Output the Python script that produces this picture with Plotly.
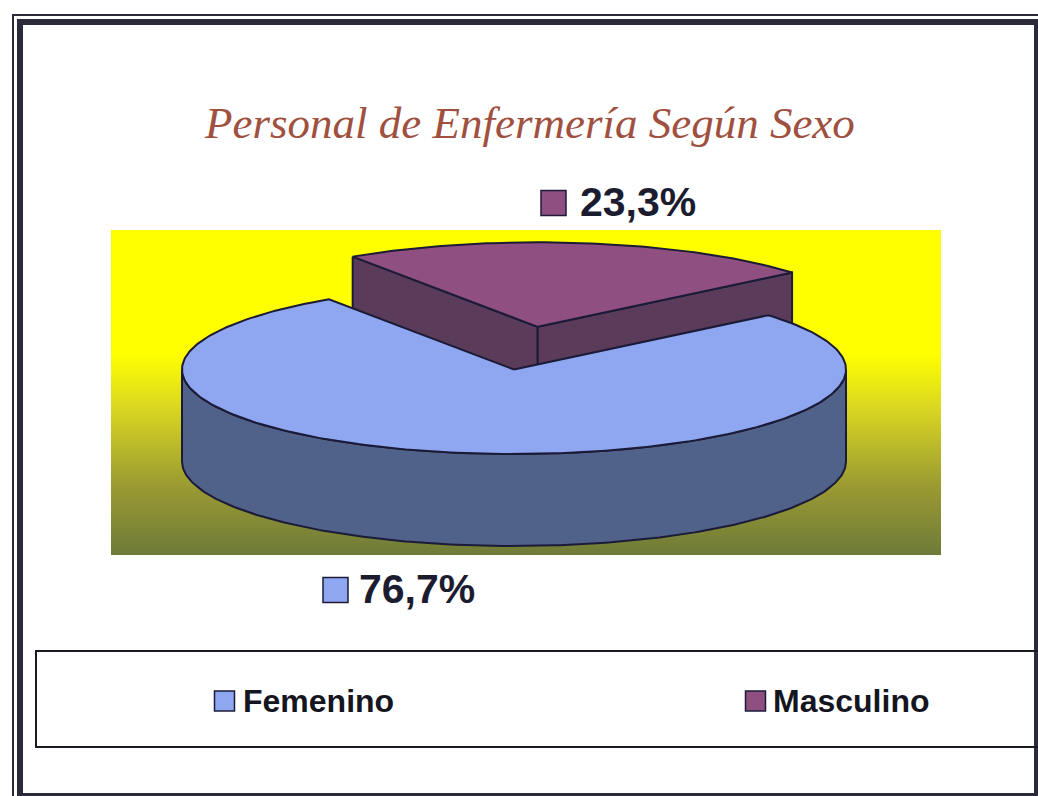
import numpy as np
import plotly.graph_objects as go

# --- data ---
categories = ["Femenino", "Masculino"]
values = [76.7, 23.3]
value_labels = ["76,7%", "23,3%"]
title_text = "Personal de Enfermería Según Sexo"

# --- styles ---
top_colors = ["#8fa7f0", "#8f4f80"]
side_colors = ["#50618a", "#5a3b59"]
line_color = "#1b1b38"
first_slice_angle = 50.0      # degrees clockwise from 12 o'clock
explode = [0.0, 0.51]
cx, cy, rx, ry, depth = 514.0, 369.5, 332.0, 84.5, 92.0

angles = []
a = first_slice_angle
for v in values:
    span = v / sum(values) * 360.0
    angles.append((a, a + span))
    a += span


def arc(start, stop, ox, oy, dy=0.0):
    t = np.radians(np.arange(start, stop, 1.0).tolist() + [stop])
    return cx + ox + rx * np.sin(t), cy + oy - ry * np.cos(t) + dy


def offset(i):
    mid = np.radians(sum(angles[i]) / 2)
    return explode[i] * rx * np.sin(mid), -explode[i] * ry * np.cos(mid)


def slice_top(i):
    ox, oy = offset(i)
    x, y = arc(*angles[i], ox, oy)
    return [cx + ox, *x, cx + ox], [cy + oy, *y, cy + oy]


def poly(x, y, fill, name, width=2):
    return go.Scatter(x=list(x), y=list(y), mode="lines", fill="toself", fillcolor=fill,
                      line=dict(color=line_color, width=width), name=name,
                      hoverinfo="name", showlegend=False)


fig = go.Figure()

# plot background with gradient
fig.add_trace(go.Scatter(
    x=[111, 941, 941, 111, 111], y=[230, 230, 555, 555, 230], mode="lines", fill="toself",
    line=dict(width=0), hoverinfo="skip", showlegend=False,
    fillgradient=dict(type="vertical", start=230, stop=555,
                      colorscale=[[0, "#ffff00"], [0.38, "#ffff00"], [0.55, "#d9d622"],
                                  [0.78, "#9c9c32"], [1, "#6e7a38"]]),
))

# Masculino (exploded) walls and top
ox, oy = offset(1)
ax, ay = arc(*angles[1], ox, oy)
vx, vy = cx + ox, cy + oy
fig.add_trace(poly([ax[0], vx, vx, ax[0], ax[0]],
                   [ay[0], vy, vy + depth, ay[0] + depth, ay[0]], side_colors[1], categories[1]))
fig.add_trace(poly([vx, ax[-1], ax[-1], vx, vx],
                   [vy, ay[-1], ay[-1] + depth, vy + depth, vy], side_colors[1], categories[1]))
x, y = slice_top(1)
fig.add_trace(poly(x, y, top_colors[1], categories[1]))

# Femenino wall (front half) and top
fx, fy = arc(90.0, 270.0, 0, 0)
fig.add_trace(poly([*fx, *fx[::-1], fx[0]], [*fy, *(fy[::-1] + depth), fy[0]], side_colors[0], categories[0]))
x, y = slice_top(0)
fig.add_trace(poly(x, y, top_colors[0], categories[0]))

# data label keys + text, legend keys + text
key_style = dict(mode="markers", hoverinfo="skip", showlegend=False)
fig.add_trace(go.Scatter(x=[335.5, 553.5], y=[590, 203],
                         marker=dict(symbol="square", size=25, color=top_colors,
                                     line=dict(color=line_color, width=1.5)), **key_style))
fig.add_trace(go.Scatter(x=[224.5, 755.5], y=[701, 701],
                         marker=dict(symbol="square", size=20, color=top_colors,
                                     line=dict(color=line_color, width=1.5)), **key_style))
fig.add_trace(go.Scatter(x=[359, 580], y=[593, 206], mode="text", text=value_labels,
                         textposition="middle right", hoverinfo="skip", showlegend=False,
                         textfont=dict(family="Liberation Sans", size=41, color="#1c1c30", weight="bold")))
fig.add_trace(go.Scatter(x=[243, 773], y=[704, 704], mode="text", text=categories,
                         textposition="middle right", hoverinfo="skip", showlegend=False,
                         textfont=dict(family="Liberation Sans", size=32, color="#15151f", weight="bold")))

shapes = [
    # outer double frame
    dict(type="rect", x0=20, y0=22, x1=1037, y1=796, line=dict(color="#2a2a3a", width=6)),
    dict(type="path", path="M 13 796 L 13 15 L 1038 15", line=dict(color="#2a2a3a", width=2)),
    # legend box, open on the right
    dict(type="path", path="M 1038 651 L 36 651 L 36 747 L 1038 747", line=dict(color="#1a1a22", width=2)),
]

fig.update_layout(
    width=1038, height=796, margin=dict(l=0, r=0, t=0, b=0),
    paper_bgcolor="#ffffff", plot_bgcolor="#ffffff", showlegend=False,
    xaxis=dict(range=[0, 1038], visible=False, fixedrange=True),
    yaxis=dict(range=[796, 0], visible=False, fixedrange=True),
    shapes=shapes,
    annotations=[dict(x=529, y=123, xref="x", yref="y", text=title_text, showarrow=False,
                      font=dict(family="Liberation Serif", size=45, color="#a0503f", style="italic"))],
)
fig.write_html("out.html", config={"displayModeBar": False},
               post_script="document.body.style.margin='0';document.body.style.overflow='hidden';")
